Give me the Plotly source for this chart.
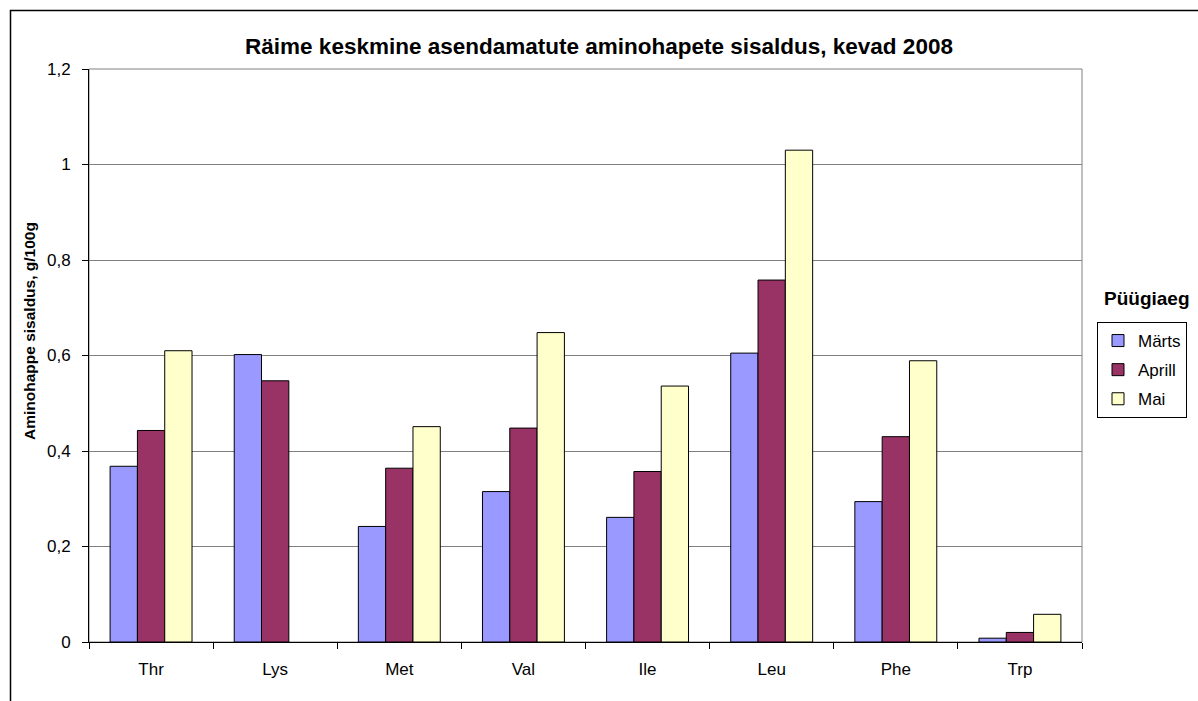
import plotly.graph_objects as go

categories = ["Thr", "Lys", "Met", "Val", "Ile", "Leu", "Phe", "Trp"]
marts = [0.368, 0.602, 0.242, 0.315, 0.261, 0.605, 0.294, 0.008]
aprill = [0.443, 0.547, 0.364, 0.448, 0.357, 0.758, 0.430, 0.020]
mai = [0.610, None, 0.451, 0.648, 0.536, 1.030, 0.589, 0.058]
series_names = ["Märts", "Aprill", "Mai"]
series_colors = ["#9999FF", "#993366", "#FFFFCC"]
y_ticks = [0, 0.2, 0.4, 0.6, 0.8, 1.0, 1.2]
y_ticktext = ["0", "0,2", "0,4", "0,6", "0,8", "1", "1,2"]

FONT = "Arial, Liberation Sans, sans-serif"

fig = go.Figure()
for name, vals, col in zip(series_names, [marts, aprill, mai], series_colors):
    fig.add_trace(go.Bar(
        x=categories, y=vals, name=name, legendgroup=name,
        marker=dict(color=col, line=dict(color="black", width=1)),
    ))

W, H = 1198, 701
L, R, T, B = 89, 1082, 69, 642
pw, ph = R - L, B - T

def px_x(px):
    return (px - L) / pw

def px_y(py):
    return (B - py) / ph

fig.update_layout(
    width=W, height=H,
    margin=dict(l=L, r=W - R, t=T, b=H - B, autoexpand=False),
    paper_bgcolor="white", plot_bgcolor="white",
    font=dict(family=FONT, size=16, color="black"),
    barmode="group", bargap=0.34, bargroupgap=0,
    title=dict(text="<b>Räime keskmine asendamatute aminohapete sisaldus, kevad 2008</b>",
               x=0.5, xanchor="center", y=1 - 46 / H, yanchor="middle",
               font=dict(family=FONT, size=22.5, color="black")),
    showlegend=True,
    legend=dict(x=px_x(1097), xanchor="left", y=px_y(322), yanchor="top",
                bordercolor="black", borderwidth=1, bgcolor="white",
                font=dict(family=FONT, size=17, color="black"),
                itemwidth=30, tracegroupgap=4, traceorder="grouped"),
)

fig.update_xaxes(
    type="category", showgrid=False, showline=True, linecolor="black", linewidth=1,
    ticks="outside", tickson="boundaries", ticklen=6, tickcolor="black",
    tickfont=dict(family=FONT, size=17), ticklabelstandoff=12,
    fixedrange=True,
)
fig.update_yaxes(
    range=[0, 1.2], tickvals=y_ticks, ticktext=y_ticktext,
    showgrid=True, gridcolor="#808080", gridwidth=1,
    showline=True, linecolor="black", linewidth=1,
    ticks="outside", ticklen=6, tickcolor="black",
    tickfont=dict(family=FONT, size=17), ticklabelstandoff=8,
    zeroline=False,
)

# plot area border (gray), outer chart frame
fig.add_shape(type="rect", xref="paper", yref="paper", x0=0, x1=1, y0=0, y1=1,
              line=dict(color="#808080", width=1), layer="below")
fig.add_shape(type="rect", xref="paper", yref="paper",
              x0=px_x(10.5), x1=px_x(1300), y0=px_y(800), y1=px_y(10.5),
              line=dict(color="black", width=1.5), layer="below")

fig.add_annotation(text="<b>Aminohappe sisaldus, g/100g</b>", textangle=-90,
                   xref="paper", yref="paper", x=px_x(29), y=px_y(331),
                   xanchor="center", yanchor="middle", showarrow=False,
                   font=dict(family=FONT, size=15.5, color="black"))
fig.add_annotation(text="<b>Püügiaeg</b>",
                   xref="paper", yref="paper", x=px_x(1147), y=px_y(298),
                   xanchor="center", yanchor="middle", showarrow=False,
                   font=dict(family=FONT, size=19, color="black"))

fig.write_html("out.html", config={"displayModeBar": False},
               post_script="document.body.style.margin='0px';")
